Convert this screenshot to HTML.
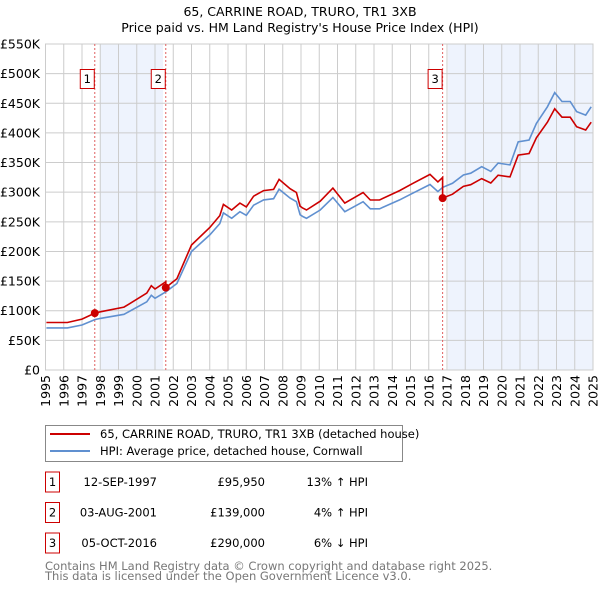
<!DOCTYPE html>
<html><head><meta charset="utf-8"><style>
body{margin:0;background:#fff;}
svg{display:block;font-family:"DejaVu Sans","Liberation Sans",sans-serif;}
</style></head><body>
<svg id="chart" width="600" height="590" xmlns="http://www.w3.org/2000/svg">
<text x="300" y="16" text-anchor="middle" font-size="12.5">65, CARRINE ROAD, TRURO, TR1 3XB</text>
<text x="300" y="32" text-anchor="middle" font-size="12.5">Price paid vs. HM Land Registry's House Price Index (HPI)</text>
<g id="plot"></g>
<g>
<rect x="45.5" y="425.5" width="357" height="36" fill="#fff" stroke="#888"/>
<line x1="50" y1="434" x2="90" y2="434" stroke="#cc0000" stroke-width="2"/>
<text x="100" y="438" font-size="11.5">65, CARRINE ROAD, TRURO, TR1 3XB (detached house)</text>
<line x1="50" y1="451" x2="90" y2="451" stroke="#6090d0" stroke-width="2"/>
<text x="100" y="455" font-size="11.5">HPI: Average price, detached house, Cornwall</text>
</g>
<g id="table" font-size="11.5"></g>
<text x="45" y="570" font-size="11.5" fill="#777">Contains HM Land Registry data © Crown copyright and database right 2025.</text>
<text x="45" y="580" font-size="11.5" fill="#777">This data is licensed under the Open Government Licence v3.0.</text>
</svg>
<script>
const hpiYears=[1995.05,1996.2,1997.0,1997.7,1998.0,1999.3,2000.55,2000.8,2001.0,2001.6,2002.2,2003.0,2004.0,2004.55,2004.75,2005.2,2005.65,2006.0,2006.4,2006.95,2007.5,2007.8,2008.4,2008.75,2008.95,2009.1,2009.3,2010.05,2010.75,2011.4,2012.06,2012.4,2012.8,2013.3,2014.4,2015.1,2016.07,2016.5,2016.76,2017.3,2017.9,2018.3,2018.9,2019.4,2019.8,2020.45,2020.9,2021.5,2021.9,2022.5,2022.9,2023.3,2023.75,2024.1,2024.6,2024.9];
const hpiValues=[71,71,76,85,87,94,115,126,121,132,146,200,228,247,265,256,267,261,278,287,289,305,290,284,262,259,256,270,291,267,278,284,272,272,287,298,313,301,308,315,329,332,343,335,349,346,385,388,416,444,468,453,453,436,430,444];
const saleDates=[1997.70,2001.59,2016.76];
const salePrices=[95950,139000,290000];
const saleLabels=["1","2","3"];
const saleDateText=["12-SEP-1997","03-AUG-2001","05-OCT-2016"];
const salePriceText=["£95,950","£139,000","£290,000"];
const saleHpiText=["13% ↑ HPI","4% ↑ HPI","6% ↓ HPI"];
const yTicks=[0,50,100,150,200,250,300,350,400,450,500,550];
const xTicks=[1995,1996,1997,1998,1999,2000,2001,2002,2003,2004,2005,2006,2007,2008,2009,2010,2011,2012,2013,2014,2015,2016,2017,2018,2019,2020,2021,2022,2023,2024,2025];

const NS="http://www.w3.org/2000/svg";
const L=45.5,R=593,T=44,B=370;
const X=t=>L+(t-1995)/30*(R-L);
const Y=v=>B-v/550*(B-T);
function mk(tag,attrs,parent){const e=document.createElementNS(NS,tag);for(const k in attrs)e.setAttribute(k,attrs[k]);parent.appendChild(e);return e;}
function hpiAt(t){if(t<=hpiYears[0])return hpiValues[0];for(let i=1;i<hpiYears.length;i++){if(t<=hpiYears[i]){const f=(t-hpiYears[i-1])/(hpiYears[i]-hpiYears[i-1]);return hpiValues[i-1]+f*(hpiValues[i]-hpiValues[i-1]);}}return hpiValues[hpiValues.length-1];}
const plot=document.getElementById('plot');
// shading
const shadeEnds=[[saleDates[0]+0.3,saleDates[1]-0.15],[saleDates[2]+0.3,2025]];
shadeEnds.forEach((s,i)=>{const r=mk('rect',{x:X(s[0]),y:T,width:X(s[1])-X(s[0]),height:B-T,fill:'#eef3fd'},plot);

});
// grid
yTicks.forEach(v=>{const l=mk('line',{x1:L,x2:R,y1:Y(v),y2:Y(v),stroke:'#cccccc'},plot);


const tx=mk('text',{x:40,y:Y(v)+4.5,'text-anchor':'end','font-size':12.5},plot);tx.textContent=v===0?'£0':'£'+v+'K';

});
xTicks.forEach(yr=>{const l=mk('line',{x1:X(yr),x2:X(yr),y1:T,y2:B,stroke:'#cccccc'},plot);


const tx=mk('text',{x:0,y:0,'text-anchor':'end','font-size':12.5,transform:`translate(${X(yr)+4.5},375) rotate(-90)`},plot);tx.textContent=yr;

});
mk('rect',{x:L,y:T,width:R-L,height:B-T,fill:'none',stroke:'#cccccc'},plot);
// sale lines
saleDates.forEach((d,i)=>{const l=mk('line',{x1:X(d),x2:X(d),y1:T,y2:B,stroke:'#e06060','stroke-dasharray':'2,2'},plot);


const bx=mk('rect',{x:X(d)-14.5,y:69.5,width:14,height:19,fill:'#fff',stroke:'#cc0000'},plot);


const t=mk('text',{x:X(d)-7.5,y:83,'text-anchor':'middle','font-size':11.5},plot);t.textContent=saleLabels[i];

});
// hpi line
const hp=mk('path',{d:hpiYears.map((t,i)=>(i?'L':'M')+X(t).toFixed(1)+','+Y(hpiValues[i]).toFixed(1)).join(''),fill:'none',stroke:'#6090d0','stroke-width':1.6},plot);


// property line: price paid indexed by HPI
function seg(t){let k=0;for(let i=0;i<saleDates.length;i++)if(t>=saleDates[i])k=i;return k;}
const pts=[];const ts=[...hpiYears,...saleDates].sort((a,b)=>a-b);
ts.forEach(t=>{const k=seg(t);const v=salePrices[k]/1000*hpiAt(t)/hpiAt(saleDates[k]);
if(saleDates.includes(t)&&k>0){const kp=k-1;pts.push([t,salePrices[kp]/1000*hpiAt(t)/hpiAt(saleDates[kp])]);}
pts.push([t,v]);});
const rp=mk('path',{d:pts.map((p,i)=>(i?'L':'M')+X(p[0]).toFixed(1)+','+Y(p[1]).toFixed(1)).join(''),fill:'none',stroke:'#cc0000','stroke-width':1.6},plot);


saleDates.forEach((d,i)=>{const c=mk('circle',{cx:X(d),cy:Y(salePrices[i]/1000),r:4,fill:'#cc0000'},plot);

});
// table
const tb=document.getElementById('table');
saleDates.forEach((d,i)=>{const cy=482+i*30.5;
const b=mk('rect',{x:45.5,y:cy-10,width:14,height:20,fill:'#fff',stroke:'#cc0000'},tb);


const cells=[[52.5,'middle',saleLabels[i]],[157,'end',saleDateText[i]],[265,'end',salePriceText[i]],[368,'end',saleHpiText[i]]];
const names=['table-row-number','table-row-date','table-row-price','table-row-hpi-change'];
cells.forEach((c,j)=>{const t=mk('text',{x:c[0],y:cy+4,'text-anchor':c[1]},tb);t.textContent=c[2];

});});
</script>
</body></html>
